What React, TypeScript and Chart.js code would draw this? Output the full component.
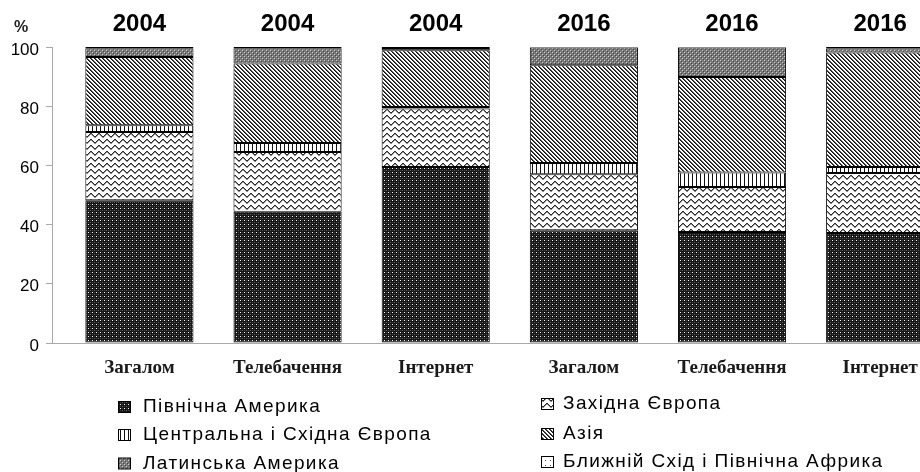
import React, { useEffect, useRef } from "react";
import { Chart, registerables } from "chart.js";

Chart.register(...registerables);

const categories = ["Загалом", "Телебачення", "Інтернет", "Загалом", "Телебачення", "Інтернет"];
const years = ["2004", "2004", "2004", "2016", "2016", "2016"];
const seriesNames = [
  "Північна Америка",
  "Західна Європа",
  "Центральна і Східна Європа",
  "Азія",
  "Латинська Америка",
  "Ближній Схід і Північна Африка",
];
const northAmerica = [48.2, 44.3, 59.5, 38.1, 37.5, 37.2];
const westernEurope = [23.1, 20.2, 19.7, 18.9, 15.2, 20.2];
const centralEasternEurope = [2.3, 3.1, 0.5, 3.8, 4.9, 2.1];
const asia = [23.0, 26.8, 19.2, 33.0, 32.3, 38.6];
const latinAmerica = [3.0, 5.2, 0.8, 6.0, 9.9, 1.5];
const middleEast = [0.4, 0.4, 0.3, 0.2, 0.2, 0.4];
const yTicks = [0, 20, 40, 60, 80, 100];
const unitLabel = "%";

type Px = [number, number, string];

function makePattern(w: number, h: number, bg: string, pixels: Px[]): CanvasPattern | string {
  const c = document.createElement("canvas");
  c.width = w;
  c.height = h;
  const g = c.getContext("2d");
  if (!g) return bg;
  g.fillStyle = bg;
  g.fillRect(0, 0, w, h);
  for (const [x, y, col] of pixels) {
    g.fillStyle = col;
    g.fillRect(x, y, 1, 1);
  }
  const p = g.createPattern(c, "repeat");
  return p || bg;
}

function buildPatterns() {
  const na = makePattern(4, 4, "#181818", [
    [0, 0, "#f4f4f4"],
    [2, 2, "#5a5a5a"],
    [0, 2, "#3a3a3a"],
    [2, 0, "#3a3a3a"],
  ]);
  const waveY = [3, 2, 1, 1, 2, 3, 4, 4];
  const wavePx: Px[] = [];
  waveY.forEach((y, x) => {
    wavePx.push([x, y, "#2a2a2a"]);
    wavePx.push([x, (y + 1) % 6, "#909090"]);
  });
  const we = makePattern(8, 6, "#ffffff", wavePx);
  const cee = makePattern(4, 4, "#ffffff", [
    [0, 0, "#111111"],
    [0, 1, "#111111"],
    [0, 2, "#111111"],
    [0, 3, "#111111"],
  ]);
  const asiaPx: Px[] = [];
  for (let i = 0; i < 4; i++) {
    asiaPx.push([i, i, "#111111"]);
    asiaPx.push([(i + 1) % 4, i, "#555555"]);
  }
  const as = makePattern(4, 4, "#ffffff", asiaPx);
  const la = makePattern(4, 4, "#777777", [
    [0, 0, "#d0d0d0"],
    [2, 2, "#d0d0d0"],
    [1, 1, "#4a4a4a"],
    [3, 3, "#4a4a4a"],
  ]);
  const me = makePattern(5, 5, "#ffffff", [[0, 0, "#444444"]]);
  return [na, we, cee, as, la, me];
}

const xMin = -0.59;
const xMax = 5.64;
const tickIdx = [0, 1, 2, 3, 4, 5];

export default function App() {
  const ref = useRef<HTMLCanvasElement | null>(null);

  useEffect(() => {
    const canvas = ref.current;
    if (!canvas) return;
    const patterns = buildPatterns();
    const values = [northAmerica, westernEurope, centralEasternEurope, asia, latinAmerica, middleEast];

    const overlay = {
      id: "overlay",
      afterDraw(chart: any) {
        const ctx = chart.ctx as CanvasRenderingContext2D;
        ctx.save();
        // unit label
        ctx.fillStyle = "#222222";
        ctx.font = "bold 16px 'Liberation Sans'";
        ctx.textAlign = "center";
        ctx.textBaseline = "middle";
        ctx.fillText(unitLabel, 21, 28);

        // legend in two columns
        const boxX = [118.5, 541.5];
        const textX = [143, 563];
        const rowY = [
          [407, 435, 463.5],
          [404, 434, 462],
        ];
        ctx.font = "19px 'Liberation Sans'";
        ctx.textAlign = "left";
        ctx.textBaseline = "middle";
        (ctx as any).letterSpacing = "1.4px";
        chart.data.datasets.forEach((ds: any, i: number) => {
          const col = i % 2;
          const row = Math.floor(i / 2);
          const y = rowY[col][row];
          ctx.fillStyle = ds.backgroundColor;
          ctx.fillRect(boxX[col], y - 5.5, 12, 11);
          ctx.strokeStyle = "#000000";
          ctx.lineWidth = 1;
          ctx.strokeRect(boxX[col], y - 5.5, 12, 11);
          ctx.fillStyle = "#000000";
          ctx.fillText(ds.label, textX[col], y);
        });
        ctx.restore();
      },
    };

    const chart = new Chart(canvas, {
      type: "bar",
      data: {
        datasets: seriesNames.map((name, s) => ({
          label: name,
          data: values[s].map((v, i) => ({ x: i, y: v })),
          backgroundColor: patterns[s] as any,
          borderColor: "#000000",
          borderWidth: 1,
          borderSkipped: false,
          categoryPercentage: 1,
          barPercentage: 0.73,
        })),
      },
      options: {
        animation: false,
        responsive: false,
        devicePixelRatio: 1,
        layout: { padding: { left: 0, top: 0, right: 5, bottom: 89 } },
        plugins: {
          legend: { display: false },
          tooltip: { enabled: false },
        },
        scales: {
          x: {
            type: "linear",
            position: "bottom",
            stacked: true,
            offset: false,
            min: xMin,
            max: xMax,
            afterBuildTicks: (scale: any) => {
              scale.ticks = tickIdx.map((v) => ({ value: v }));
            },
            afterFit: (scale: any) => {
              scale.height = 40;
            },
            ticks: {
              autoSkip: false,
              maxRotation: 0,
              padding: 6,
              color: "#1a1a1a",
              font: { family: "'Liberation Serif'", size: 19, weight: "bold" },
              callback: (_v: any, i: number) => categories[i],
            },
            grid: { display: false },
            border: { display: true, color: "#aaaaaa", width: 1 },
          },
          x2: {
            type: "linear",
            position: "top",
            offset: false,
            min: xMin,
            max: xMax,
            afterBuildTicks: (scale: any) => {
              scale.ticks = tickIdx.map((v) => ({ value: v }));
            },
            afterFit: (scale: any) => {
              scale.height = 47;
            },
            ticks: {
              autoSkip: false,
              maxRotation: 0,
              padding: 0,
              color: "#000000",
              font: { family: "'Liberation Sans'", size: 24, weight: "bold" },
              callback: (_v: any, i: number) => years[i],
            },
            grid: { display: false },
            border: { display: false },
          },
          y: {
            type: "linear",
            stacked: true,
            min: 0,
            max: 100,
            afterBuildTicks: (scale: any) => {
              scale.ticks = yTicks.map((v) => ({ value: v }));
            },
            afterFit: (scale: any) => {
              scale.width = 52;
            },
            ticks: {
              padding: 7,
              labelOffset: 3,
              color: "#000000",
              font: { family: "'Liberation Sans'", size: 17 },
            },
            grid: {
              display: true,
              drawOnChartArea: false,
              drawTicks: true,
              tickLength: 6,
              color: "#aaaaaa",
            },
            border: { display: true, color: "#aaaaaa", width: 1 },
          },
        },
      } as any,
      plugins: [overlay],
    });

    return () => {
      chart.destroy();
    };
  }, []);

  return (
    <div
      style={{
        position: "fixed",
        left: 0,
        top: 0,
        width: 920,
        height: 472,
        overflow: "hidden",
        background: "#ffffff",
      }}
    >
      <canvas ref={ref} width={980} height={472} style={{ display: "block" }} />
    </div>
  );
}
